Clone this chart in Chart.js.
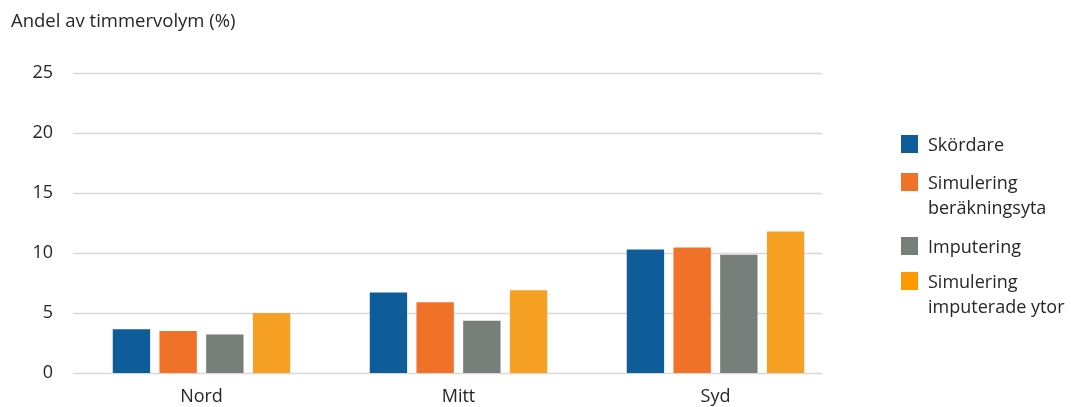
<!DOCTYPE html>
<html>
<head>
<meta charset="utf-8">
<script src="https://cdn.jsdelivr.net/npm/chart.js@4"></script>
<style>
  html, body { margin: 0; padding: 0; background: #fff; }
  #wrap { position: relative; width: 1071px; height: 407px; }
  #titel { position: absolute; left: 11px; top: 7px; font: 18.5px "Open Sans", sans-serif; color: #262626; }
  #legend { position: absolute; left: 901px; top: 0; font: 18px "Open Sans", sans-serif; color: #262626; }
  .item { position: absolute; left: 0; white-space: nowrap; }
  .box { position: absolute; left: 0; width: 17px; height: 18px; }
  .txt { position: absolute; left: 27px; line-height: 25px; }
</style>
</head>
<body>
<div id="wrap">
  <canvas id="graf" width="1071" height="407"></canvas>
  <div id="titel">Andel av timmervolym (%)</div>
  <div id="legend"></div>
</div>
<script>
const kategorier = ["Nord", "Mitt", "Syd"];
const serier = ["Skördare", "Simulering beräkningsyta", "Imputering", "Simulering imputerade ytor"];
const legendText = [["Skördare"], ["Simulering", "beräkningsyta"], ["Imputering"], ["Simulering", "imputerade ytor"]];
const skordare = [3.65, 6.7, 10.3];
const simBerakning = [3.5, 5.9, 10.45];
const imputering = [3.2, 4.35, 9.85];
const simImputerade = [5.0, 6.9, 11.8];
const yTicks = [0, 5, 10, 15, 20, 25];

const farger = ["#0e5c9a", "#f07128", "#767f7a", "#f7a124"];
const legendFarger = ["#0e5c9a", "#f07128", "#767f7a", "#ff9900"];
const varden = [skordare, simBerakning, imputering, simImputerade];

// egna rutnätslinjer som slutar före kategoriytans högra kant
const rutnat = {
  id: "rutnat",
  beforeDatasetsDraw(chart) {
    const c = chart.ctx;
    const y = chart.scales.y;
    c.save();
    c.strokeStyle = "#d9d9d9";
    c.lineWidth = 1.5;
    yTicks.forEach(t => {
      const py = Math.round(y.getPixelForValue(t)) + 0.5;
      c.beginPath();
      c.moveTo(73, py);
      c.lineTo(822, py);
      c.stroke();
    });
    c.restore();
  }
};

new Chart(document.getElementById("graf"), {
  type: "bar",
  data: {
    labels: kategorier,
    datasets: serier.map((s, i) => ({
      label: s,
      data: varden[i],
      backgroundColor: farger[i],
      categoryPercentage: 0.727,
      barPercentage: 0.8
    }))
  },
  options: {
    responsive: false,
    animation: false,
    layout: { padding: { top: 73, right: 227, left: 0, bottom: 0 } },
    plugins: { legend: { display: false }, tooltip: { enabled: false } },
    scales: {
      x: {
        grid: { display: false, drawTicks: false },
        border: { display: false },
        ticks: { color: "#262626", font: { family: "Open Sans", size: 18 }, padding: 13 },
        afterFit: s => { s.height = 34; }
      },
      y: {
        min: 0,
        max: 25,
        afterBuildTicks: s => { s.ticks = yTicks.map(v => ({ value: v })); },
        grid: { display: false, drawTicks: false },
        border: { display: false },
        ticks: { color: "#262626", font: { family: "Open Sans", size: 18 }, padding: 20 },
        afterFit: s => { s.width = 73; }
      }
    }
  },
  plugins: [rutnat]
});

// förklaring till höger
const leg = document.getElementById("legend");
const topp = [135, 173, 237, 272];
legendText.forEach((rader, i) => {
  const el = document.createElement("div");
  el.className = "item";
  el.style.top = topp[i] + "px";
  el.innerHTML = `<div class="box" style="background:${legendFarger[i]}"></div>` +
    `<div class="txt" style="top:-3px">${rader.join("<br>")}</div>`;
  leg.appendChild(el);
});
</script>
</body>
</html>
